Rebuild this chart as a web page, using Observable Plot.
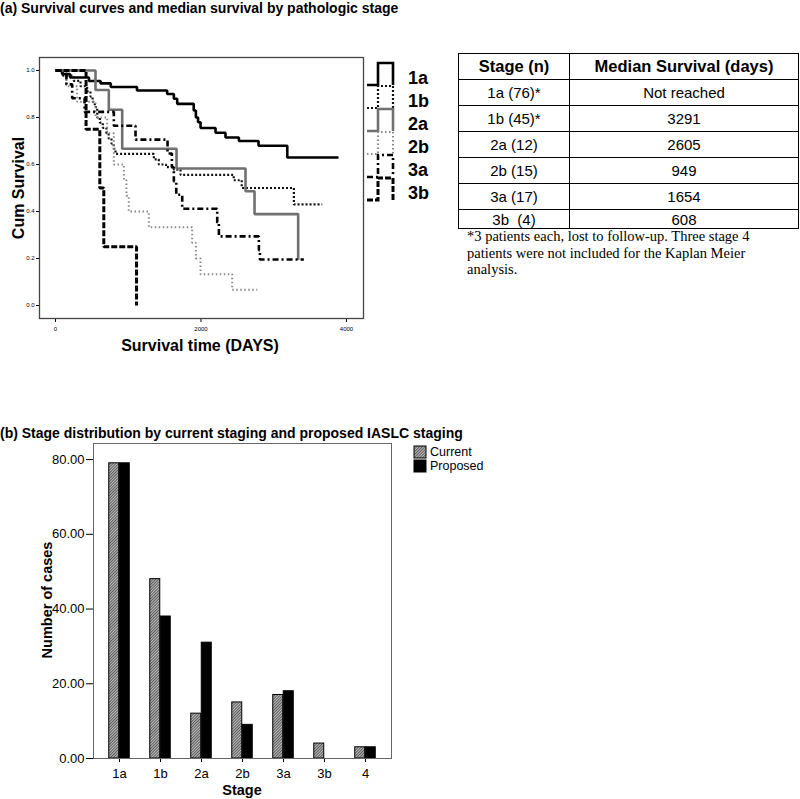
<!DOCTYPE html>
<html><head><meta charset="utf-8">
<script src="https://cdn.jsdelivr.net/npm/d3@7"></script>
<script src="https://cdn.jsdelivr.net/npm/@observablehq/plot@0.6"></script>
<style>
body{margin:0;background:#fff;font-family:"Liberation Sans",Arial,sans-serif;}
#root{position:relative;width:800px;height:799px;overflow:hidden;background:#fff;}
#root > *{position:absolute;}
table.med{border-collapse:collapse;font-family:"Liberation Sans",Arial,sans-serif;}
table.med td, table.med th{border:1px solid #000;padding:0;text-align:center;line-height:1;}
table.med th{font-weight:bold;font-size:16.5px;height:25px;}
table.med td{font-size:15px;height:25px;}
.foot{font-family:"Liberation Serif","Times New Roman",serif;font-size:14.5px;line-height:16.5px;}
</style></head><body>
<svg width="0" height="0" style="position:absolute"><defs>
<pattern id="hatch" patternUnits="userSpaceOnUse" width="2" height="2" patternTransform="rotate(45)">
<rect width="2" height="2" fill="#bdbdbd"/><rect width="1" height="2" fill="#5a5a5a"/></pattern>
</defs></svg>
<div id="root"></div>
<script>
// ---------- Panel (a): Kaplan-Meier curves (day, cumulative survival) ----------
const km1a = [[0,1],[90,0.985],[200,0.97],[460,0.955],[620,0.945],[760,0.93],[1120,0.915],[1535,0.90],[1627,0.88],[1673,0.858],[1900,0.83],[1930,0.80],[1960,0.78],[1994,0.755],[2200,0.735],[2337,0.715],[2521,0.70],[2791,0.68],[3186,0.63],[3891,0.63]];
const km1b = [[0,1],[100,0.978],[250,0.956],[344,0.933],[435,0.911],[481,0.889],[510,0.867],[540,0.844],[573,0.80],[610,0.778],[650,0.756],[700,0.733],[730,0.711],[770,0.689],[800,0.667],[825,0.645],[1352,0.622],[1420,0.60],[1520,0.589],[1627,0.578],[1719,0.556],[2450,0.533],[2560,0.50],[3277,0.43],[3666,0.43]];
const km2a = [[0,1],[550,0.917],[733,0.833],[917,0.667],[1664,0.583],[2612,0.486],[2736,0.389],[3336,0.194],[3336,0.194]];
const km2b = [[0,1],[150,0.933],[298,0.867],[550,0.80],[710,0.733],[802,0.60],[940,0.533],[975,0.467],[1007,0.40],[1283,0.333],[1879,0.267],[1930,0.20],[1994,0.133],[2429,0.067],[2773,0.067]];
const km3a = [[0,1],[150,0.941],[229,0.882],[400,0.824],[802,0.765],[1100,0.706],[1540,0.647],[1600,0.588],[1627,0.529],[1660,0.471],[1742,0.412],[2223,0.353],[2246,0.294],[2796,0.235],[2810,0.196],[3414,0.196]];
const km3b = [[0,1],[420,0.75],[609,0.50],[664,0.25],[1114,0],[1114,0]];
const kmGroups = ["1a","1b","2a","2b","3a","3b"];
const kmData = [km1a, km1b, km2a, km2b, km3a, km3b];
const kmXTicks = [0, 2000, 4000];
const kmYTicks = [0, 0.2, 0.4, 0.6, 0.8, 1.0];

// ---------- Table: median survival ----------
const tableStages = ["1a (76)*", "1b (45)*", "2a (12)", "2b (15)", "3a (17)", "3b\u00a0 (4)"];
const tableMedians = ["Not reached", "3291", "2605", "949", "1654", "608"];
const tableHeaders = ["Stage (n)", "Median Survival (days)"];
const footnote = "*3 patients each, lost to follow-up. Three stage 4 patients were not included for the Kaplan Meier analysis.";

// ---------- Panel (b): stage distribution ----------
const stages = ["1a","1b","2a","2b","3a","3b","4"];
const current = [79, 48, 12, 15, 17, 4, 3];
const proposed = [79, 38, 31, 9, 18, 0, 3];
const barYTicks = [0, 20, 40, 60, 80];

const root = document.getElementById("root");

// styles for KM curves
const kmStyles = {
  "1a": {stroke:"#000", strokeWidth:2.6, dash:null},
  "1b": {stroke:"#111", strokeWidth:2.2, dash:"2,2"},
  "2a": {stroke:"#707070", strokeWidth:2.6, dash:null},
  "2b": {stroke:"#888", strokeWidth:2, dash:"1.5,2.5"},
  "3a": {stroke:"#000", strokeWidth:2.6, dash:"6,3,2,3"},
  "3b": {stroke:"#000", strokeWidth:3, dash:"6,2"}
};

const kmMarks = kmGroups.map((g, i) => Plot.line(kmData[i], {
  x: d => d[0], y: d => d[1], curve: "step-after",
  stroke: kmStyles[g].stroke, strokeWidth: kmStyles[g].strokeWidth,
  strokeDasharray: kmStyles[g].dash, strokeLinecap: "butt", strokeLinejoin: "miter"
}));

const km = Plot.plot({
  width: 370, height: 360, marginLeft: 39, marginRight: 7, marginTop: 57, marginBottom: 42,
  style: {fontFamily: "Liberation Sans, Arial, sans-serif", fontSize: "6px", color: "#000", background: "transparent"},
  x: {domain: [-220, 4234], ticks: kmXTicks, tickFormat: "d", tickSize: 4, tickPadding: 4, label: null},
  y: {domain: [-0.0553, 1.0553], ticks: kmYTicks, tickFormat: ".1f", tickSize: 3, tickPadding: 2, label: null},
  marks: [...kmMarks, Plot.frame({stroke: "#444", strokeWidth: 1.3})]
});
km.style.left = "0px"; km.style.top = "0px";
root.appendChild(km);

// bar chart
const rowsCur = stages.map((s, i) => ({stage: s, v: current[i]}));
const rowsPro = stages.map((s, i) => ({stage: s, v: proposed[i]}));
const bar = Plot.plot({
  width: 400, height: 380, marginLeft: 93, marginRight: 9, marginTop: 23, marginBottom: 42,
  style: {fontFamily: "Liberation Sans, Arial, sans-serif", fontSize: "13px", color: "#000", background: "transparent"},
  x: {domain: stages, paddingInner: 0.746, paddingOuter: 0.478, tickSize: 4, tickPadding: 6, label: null},
  y: {domain: [0, 84.3], ticks: barYTicks, tickFormat: ".2f", tickSize: 7, tickPadding: 2, label: null},
  marks: [
    Plot.barY(rowsCur, {x: "stage", y: "v", dx: -5.25, fill: "url(#hatch)", stroke: "#000", strokeWidth: 1}),
    Plot.barY(rowsPro, {x: "stage", y: "v", dx: 5.25, fill: "#000", stroke: "#000", strokeWidth: 1}),
    Plot.frame({stroke: "#666", strokeWidth: 1})
  ]
});
bar.style.left = "0px"; bar.style.top = "420px";
root.appendChild(bar);

// table
const tbl = document.createElement("table");
tbl.className = "med";
tbl.style.left = "458px"; tbl.style.top = "53px"; tbl.style.width = "341px";
let html = "<tr><th style='width:110px'>" + tableHeaders[0] + "</th><th>" + tableHeaders[1] + "</th></tr>";
tableStages.forEach((s, i) => {
  const h = i === tableStages.length - 1 ? "18px" : "25px";
  html += "<tr><td style='height:" + h + "'>" + s + "</td><td style='height:" + h + "'>" + tableMedians[i] + "</td></tr>";
});
tbl.innerHTML = html;
root.appendChild(tbl);

const foot = document.createElement("div");
foot.className = "foot";
foot.style.left = "467px"; foot.style.top = "228px"; foot.style.width = "300px";
foot.textContent = footnote;
root.appendChild(foot);

// overlay: titles, axis titles, legends
const ov = d3.create("svg").attr("width", 800).attr("height", 799)
  .style("left", "0px").style("top", "0px").style("pointer-events", "none")
  .style("font-family", "Liberation Sans, Arial, sans-serif");
ov.append("text").attr("x", 0).attr("y", 8).attr("dominant-baseline", "central")
  .attr("font-weight", "bold").attr("font-size", 14).text("(a) Survival curves and median survival by pathologic stage");
ov.append("text").attr("x", 0).attr("y", 433).attr("dominant-baseline", "central")
  .attr("font-weight", "bold").attr("font-size", 14).text("(b) Stage distribution by current staging and proposed IASLC staging");
ov.append("text").attr("transform", "translate(18,188) rotate(-90)").attr("text-anchor", "middle")
  .attr("dominant-baseline", "central").attr("font-weight", "bold").attr("font-size", 16).text("Cum Survival");
ov.append("text").attr("x", 200).attr("y", 345).attr("text-anchor", "middle")
  .attr("dominant-baseline", "central").attr("font-weight", "bold").attr("font-size", 16).text("Survival time (DAYS)");
ov.append("text").attr("transform", "translate(47,600) rotate(-90)").attr("text-anchor", "middle")
  .attr("dominant-baseline", "central").attr("font-weight", "bold").attr("font-size", 14.5).text("Number of cases");
ov.append("text").attr("x", 242).attr("y", 790).attr("text-anchor", "middle")
  .attr("dominant-baseline", "central").attr("font-weight", "bold").attr("font-size", 14.5).text("Stage");

// KM legend
kmGroups.forEach((g, i) => {
  const y = 78 + 23 * i;
  const st = kmStyles[g];
  ov.append("path").attr("d", `M367,${y+7}H378V${y-15}H393V${y+7}`).attr("fill", "none")
    .attr("stroke", st.stroke).attr("stroke-width", st.strokeWidth).attr("stroke-dasharray", st.dash);
  ov.append("text").attr("x", 408).attr("y", y).attr("dominant-baseline", "central")
    .attr("font-weight", "bold").attr("font-size", 18).text(g);
});

// bar legend
[["Current", "url(#hatch)"], ["Proposed", "#000"]].forEach(([lab, f], i) => {
  const y = 446 + 14 * i;
  ov.append("rect").attr("x", 414).attr("y", y).attr("width", 12).attr("height", 12)
    .attr("fill", f).attr("stroke", "#000").attr("stroke-width", 1);
  ov.append("text").attr("x", 430).attr("y", y + 6).attr("dominant-baseline", "central")
    .attr("font-size", 12.5).text(lab);
});
root.appendChild(ov.node());
</script></body></html>
